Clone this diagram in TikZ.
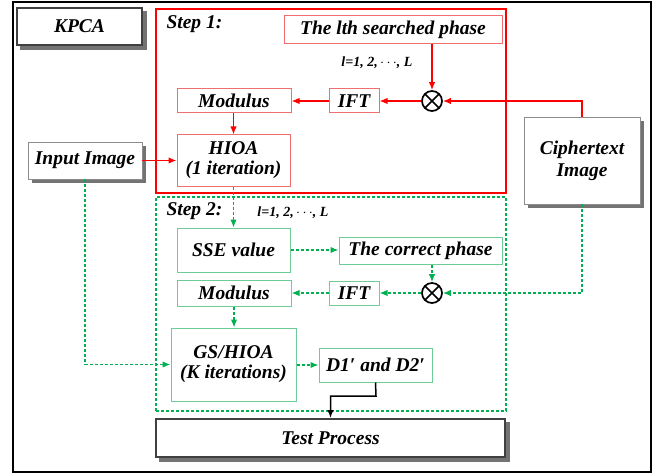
\documentclass[tikz,border=0pt]{standalone}
\usepackage{fontspec}
\setmainfont{Liberation Serif}
\usetikzlibrary{arrows.meta,backgrounds}
\definecolor{lred}{RGB}{240,110,110}
\definecolor{lgreen}{RGB}{110,205,150}
\definecolor{dgreen}{RGB}{0,175,80}
\begin{document}
\begin{tikzpicture}[x=1pt,y=-1pt,
  txt/.style={font=\fontsize{19.5}{22}\selectfont\bfseries\itshape},
  small/.style={font=\fontsize{14}{16}\selectfont\bfseries\itshape},
  bx/.style={draw, rectangle, inner sep=0pt, fill=white, txt, align=center},
  heavybox/.style={bx, draw=black!75, line width=1.8pt},
  lightbox/.style={bx, draw=black!45, line width=0.9pt},
  shadowfill/.style={fill=black!55},
  redbox/.style={bx, draw=lred, line width=1pt},
  greenbox/.style={bx, draw=lgreen, line width=1pt},
  redarr/.style={draw=red, line width=1.4pt, -{Latex[length=8pt,width=6.5pt]}},
  grnarr/.style={draw=dgreen, line width=1.4pt, dash pattern=on 3pt off 2pt, -{Latex[length=8pt,width=6.5pt]}},
  blkarr/.style={draw=black, line width=1.5pt, -{Latex[length=8pt,width=6.5pt]}},
  mult/.style={circle, draw=black, line width=1.7pt, minimum size=20pt, inner sep=0pt, fill=white,
    path picture={\draw[line width=1.7pt]
      (path picture bounding box.center) ++(-7pt,-7pt) -- ++(14pt,14pt)
      (path picture bounding box.center) ++(-7pt,7pt) -- ++(14pt,-14pt);}}
]
\useasboundingbox (0,0) rectangle (655,473);
\node[draw=black, line width=1.6pt, minimum width=638pt, minimum height=470pt, inner sep=0pt] (frame) at (332,237) {};

% containers
\node[draw=red, line width=1.4pt, minimum width=350pt, minimum height=184pt, inner sep=0pt] (step1) at (331,101) {};
\node[draw=dgreen, line width=1.4pt, dash pattern=on 3pt off 2pt, minimum width=350pt, minimum height=214pt, inner sep=0pt] (step2) at (331,304) {};
\node[txt, anchor=west] (s1lab) at (163,24) {Step 1:};
\node[txt, anchor=west] (s2lab) at (163,211) {Step 2:};
\node[small] (l1) at (377,63) {l=1, 2,\,$\cdots$, L};
\node[small] (l2) at (293,213) {l=1, 2,\,$\cdots$, L};

% boxes
\node[heavybox, minimum width=125pt, minimum height=37pt] (kpca) at (79.5,26.5) {KPCA};
\node[redbox, minimum width=218pt, minimum height=28pt] (lth) at (393,30) {The lth searched phase};
\node[mult] (ot1) at (432,101) {};
\node[redbox, minimum width=50pt, minimum height=24pt] (ift1) at (354,101) {IFT};
\node[redbox, minimum width=114pt, minimum height=24pt] (mod1) at (234,101) {Modulus};
\node[redbox, minimum width=113pt, minimum height=51pt] (hioa) at (233.5,160.5) {HIOA\\[-2pt](1 iteration)};
\node[lightbox, minimum width=114pt, minimum height=37pt] (input) at (85,160.5) {Input Image};
\node[lightbox, minimum width=116pt, minimum height=87pt] (cipher) at (582,160.5) {Ciphertext\\Image};

\node[greenbox, minimum width=113pt, minimum height=44pt] (sse) at (233.5,250) {SSE value};
\node[greenbox, minimum width=163pt, minimum height=27pt] (corr) at (420.5,250.5) {The correct phase};
\node[mult] (ot2) at (432,293) {};
\node[greenbox, minimum width=50pt, minimum height=24pt] (ift2) at (354,293) {IFT};
\node[greenbox, minimum width=114pt, minimum height=26pt] (mod2) at (234,293) {Modulus};
\node[greenbox, minimum width=125pt, minimum height=73pt] (gs) at (233.5,364.5) {GS/HIOA\\[-2pt](K iterations)};
\node[greenbox, minimum width=113pt, minimum height=34pt] (d12) at (375.5,365) {D1′ and D2′};
\node[heavybox, minimum width=349pt, minimum height=38pt] (test) at (330.5,438) {Test Process};

% shadows
\begin{scope}[on background layer]
  \foreach \b in {kpca,input,cipher,test}{
    \fill[shadowfill] ([shift={(4pt,-4pt)}]\b.north west) rectangle ([shift={(4pt,-4pt)}]\b.south east);
  }
\end{scope}

% red connectors
\draw[redarr] (lth.south -| ot1.north) -- (ot1.north);
\draw[redarr] (cipher.north) |- (ot1.east);
\draw[redarr] (ot1.west) -- (ift1.east);
\draw[redarr] (ift1.west) -- (mod1.east);
\draw[redarr] (mod1.south -| hioa.north) -- (hioa.north);
\draw[redarr] (input.east) -- (hioa.west);

% green connectors
\draw[grnarr] (hioa.south) -- (sse.north);
\draw[grnarr] (sse.east) -- (sse.east -| corr.west);
\draw[grnarr] (corr.south -| ot2.north) -- (ot2.north);
\draw[grnarr] (cipher.south) |- (ot2.east);
\draw[grnarr] (ot2.west) -- (ift2.east);
\draw[grnarr] (ift2.west) -- (ift2.west -| mod2.east);
\draw[grnarr] (mod2.south) -- (mod2.south |- gs.north);
\draw[grnarr] (input.south) |- (gs.west);
\draw[grnarr] (gs.east |- d12.west) -- (d12.west);

% black connector
\coordinate (dbend) at (376,396);
\draw[blkarr] (d12.south) -- (dbend) -| (test.north);
\end{tikzpicture}
\end{document}
